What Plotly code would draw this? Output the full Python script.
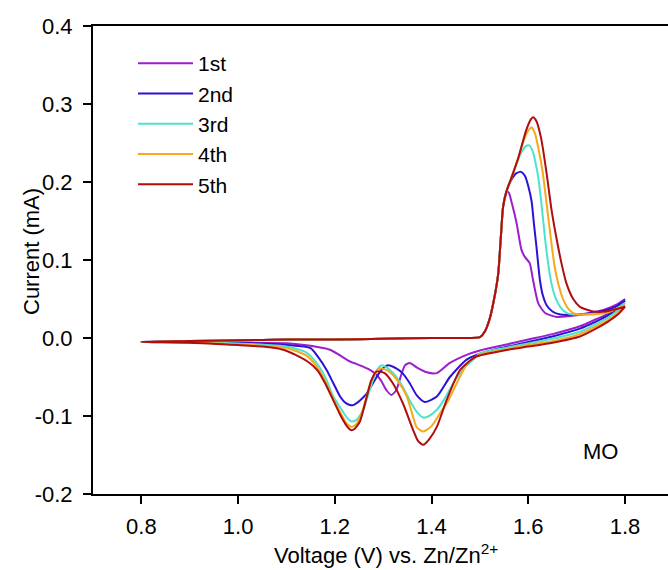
import plotly.graph_objects as go

# ---------------- data ----------------
labels = ["1st", "2nd", "3rd", "4th", "5th"]
colors = ["#9B1FCB", "#2A12D6", "#4CE3CE", "#F7A81B", "#B00E0E"]

# common forward (anodic) baseline 0.8 -> ~1.555 V
fwd_base_v = [0.80, 0.90, 1.00, 1.10, 1.20, 1.30, 1.40, 1.45, 1.48, 1.50, 1.51, 1.52, 1.53, 1.538, 1.543, 1.548, 1.555]
fwd_base_i = [-0.005, -0.004, -0.003, -0.002, -0.002, -0.001, 0.000, 0.000, 0.000, 0.001, 0.008, 0.024, 0.052, 0.083, 0.126, 0.168, 0.188]

# forward branch after the shoulder, per cycle
fwd1_v = [1.56, 1.566, 1.576, 1.586, 1.593, 1.603, 1.610, 1.621, 1.635, 1.659, 1.70, 1.728, 1.76, 1.78, 1.80]
fwd1_i = [0.186, 0.173, 0.147, 0.113, 0.104, 0.096, 0.074, 0.044, 0.032, 0.027, 0.029, 0.032, 0.037, 0.042, 0.050]
fwd2_v = [1.565, 1.575, 1.585, 1.593, 1.600, 1.607, 1.612, 1.617, 1.624, 1.630, 1.638, 1.650, 1.666, 1.70, 1.75, 1.78, 1.80]
fwd2_i = [0.203, 0.211, 0.213, 0.208, 0.195, 0.175, 0.145, 0.117, 0.075, 0.055, 0.042, 0.034, 0.030, 0.030, 0.034, 0.040, 0.048]
fwd3_v = [1.565, 1.575, 1.585, 1.595, 1.602, 1.610, 1.616, 1.621, 1.628, 1.635, 1.642, 1.648, 1.656, 1.666, 1.68, 1.70, 1.75, 1.78, 1.80]
fwd3_i = [0.205, 0.222, 0.237, 0.246, 0.247, 0.238, 0.222, 0.205, 0.168, 0.126, 0.092, 0.070, 0.052, 0.040, 0.032, 0.030, 0.032, 0.037, 0.045]
fwd4_v = [1.565, 1.578, 1.590, 1.600, 1.607, 1.614, 1.622, 1.630, 1.638, 1.647, 1.655, 1.662, 1.672, 1.680, 1.693, 1.72, 1.76, 1.80]
fwd4_i = [0.205, 0.228, 0.252, 0.266, 0.270, 0.262, 0.240, 0.212, 0.172, 0.126, 0.090, 0.070, 0.050, 0.040, 0.032, 0.030, 0.032, 0.042]
fwd5_v = [1.565, 1.580, 1.595, 1.605, 1.610, 1.617, 1.627, 1.638, 1.648, 1.659, 1.669, 1.679, 1.693, 1.707, 1.734, 1.76, 1.80]
fwd5_i = [0.205, 0.232, 0.265, 0.280, 0.283, 0.278, 0.255, 0.211, 0.165, 0.126, 0.095, 0.070, 0.050, 0.040, 0.034, 0.034, 0.040]

# reverse (cathodic) branch 1.8 -> 0.8 V, per cycle
rev1_v = [1.80, 1.785, 1.765, 1.74, 1.707, 1.65, 1.60, 1.55, 1.50, 1.479, 1.438, 1.411, 1.390, 1.370, 1.355, 1.345, 1.335, 1.327, 1.317, 1.307, 1.296, 1.286, 1.270, 1.252, 1.231, 1.210, 1.190, 1.150, 1.108, 1.00, 0.90, 0.80]
rev1_i = [0.050, 0.040, 0.031, 0.024, 0.015, 0.005, -0.002, -0.009, -0.016, -0.020, -0.032, -0.045, -0.044, -0.038, -0.032, -0.035, -0.052, -0.067, -0.073, -0.067, -0.055, -0.047, -0.040, -0.035, -0.030, -0.022, -0.015, -0.010, -0.007, -0.006, -0.005, -0.005]
rev2_v = [1.80, 1.785, 1.765, 1.74, 1.707, 1.65, 1.60, 1.55, 1.50, 1.472, 1.438, 1.411, 1.386, 1.370, 1.355, 1.340, 1.327, 1.310, 1.295, 1.279, 1.265, 1.252, 1.238, 1.231, 1.220, 1.211, 1.197, 1.183, 1.165, 1.150, 1.100, 1.00, 0.90, 0.80]
rev2_i = [0.048, 0.038, 0.029, 0.021, 0.012, 0.002, -0.005, -0.012, -0.020, -0.028, -0.050, -0.075, -0.082, -0.074, -0.058, -0.045, -0.039, -0.035, -0.042, -0.058, -0.072, -0.080, -0.086, -0.086, -0.082, -0.075, -0.058, -0.041, -0.024, -0.013, -0.009, -0.006, -0.005, -0.005]
rev3_v = [1.80, 1.785, 1.765, 1.74, 1.707, 1.65, 1.60, 1.55, 1.50, 1.486, 1.465, 1.445, 1.425, 1.411, 1.395, 1.383, 1.370, 1.355, 1.338, 1.321, 1.305, 1.297, 1.288, 1.279, 1.268, 1.259, 1.245, 1.235, 1.225, 1.210, 1.197, 1.180, 1.160, 1.140, 1.100, 1.00, 0.90, 0.80]
rev3_i = [0.045, 0.035, 0.026, 0.018, 0.008, -0.001, -0.007, -0.013, -0.020, -0.028, -0.040, -0.058, -0.080, -0.092, -0.100, -0.102, -0.095, -0.080, -0.060, -0.045, -0.037, -0.035, -0.040, -0.054, -0.075, -0.092, -0.105, -0.107, -0.102, -0.088, -0.075, -0.050, -0.030, -0.018, -0.011, -0.007, -0.005, -0.005]
rev4_v = [1.80, 1.785, 1.765, 1.74, 1.707, 1.65, 1.60, 1.55, 1.50, 1.475, 1.452, 1.435, 1.417, 1.400, 1.383, 1.370, 1.349, 1.330, 1.310, 1.293, 1.282, 1.270, 1.258, 1.245, 1.235, 1.225, 1.210, 1.197, 1.180, 1.162, 1.140, 1.100, 1.00, 0.90, 0.80]
rev4_i = [0.042, 0.032, 0.023, 0.015, 0.005, -0.004, -0.009, -0.015, -0.021, -0.032, -0.058, -0.080, -0.097, -0.113, -0.120, -0.115, -0.075, -0.055, -0.042, -0.039, -0.046, -0.065, -0.092, -0.110, -0.114, -0.110, -0.094, -0.078, -0.055, -0.036, -0.022, -0.013, -0.008, -0.006, -0.005]
rev5_v = [1.80, 1.785, 1.765, 1.74, 1.707, 1.65, 1.60, 1.55, 1.492, 1.459, 1.431, 1.411, 1.395, 1.383, 1.372, 1.362, 1.341, 1.320, 1.303, 1.286, 1.275, 1.265, 1.252, 1.240, 1.233, 1.225, 1.210, 1.197, 1.180, 1.165, 1.148, 1.120, 1.093, 1.050, 1.00, 0.90, 0.80]
rev5_i = [0.040, 0.030, 0.021, 0.012, 0.002, -0.006, -0.011, -0.016, -0.024, -0.041, -0.080, -0.114, -0.130, -0.137, -0.132, -0.118, -0.084, -0.058, -0.045, -0.043, -0.055, -0.078, -0.107, -0.117, -0.118, -0.113, -0.097, -0.080, -0.058, -0.042, -0.032, -0.022, -0.015, -0.011, -0.009, -0.006, -0.005]

fwd_v = [fwd1_v, fwd2_v, fwd3_v, fwd4_v, fwd5_v]
fwd_i = [fwd1_i, fwd2_i, fwd3_i, fwd4_i, fwd5_i]
rev_v = [rev1_v, rev2_v, rev3_v, rev4_v, rev5_v]
rev_i = [rev1_i, rev2_i, rev3_i, rev4_i, rev5_i]

x_ticks = [0.8, 1.0, 1.2, 1.4, 1.6, 1.8]
x_ticktext = ["0.8", "1.0", "1.2", "1.4", "1.6", "1.8"]
y_ticks = [-0.2, -0.1, 0.0, 0.1, 0.2, 0.3, 0.4]
y_ticktext = ["-0.2", "-0.1", "0.0", "0.1", "0.2", "0.3", "0.4"]

FONT = "Liberation Sans, Arial, sans-serif"
FS = 22

fig = go.Figure()
for k in range(5):
    v = fwd_base_v + fwd_v[k] + rev_v[k]
    i = fwd_base_i + fwd_i[k] + rev_i[k]
    fig.add_trace(go.Scatter(
        x=v, y=i, mode="lines", name=labels[k],
        line=dict(color=colors[k], width=2, shape="spline", smoothing=0.6),
    ))

W, H = 668, 570
L, R, T, B = 93, 0, 26, 76

fig.update_layout(
    width=W, height=H,
    margin=dict(l=L, r=R, t=T, b=B),
    paper_bgcolor="white", plot_bgcolor="white",
    font=dict(family=FONT, size=FS, color="black"),
    showlegend=True,
    legend=dict(
        x=(133 - L) / (W - L - R), y=(H - B - 43) / (H - T - B),
        xanchor="left", yanchor="top",
        bgcolor="rgba(0,0,0,0)", borderwidth=0,
        font=dict(family=FONT, size=21, color="black"),
        tracegroupgap=0, itemwidth=55,
    ),
    xaxis=dict(
        range=[0.7, 1.889], tickvals=x_ticks, ticktext=x_ticktext,
        ticks="outside", ticklen=8, tickwidth=2, tickcolor="black",
        showline=True, linecolor="black", linewidth=2, mirror=True,
        showgrid=False, zeroline=False,
        tickfont=dict(family=FONT, size=FS, color="black"),
        ticklabelstandoff=4,
    ),
    yaxis=dict(
        range=[-0.2, 0.4], tickvals=y_ticks, ticktext=y_ticktext,
        ticks="outside", ticklen=8, tickwidth=2, tickcolor="black",
        showline=True, linecolor="black", linewidth=2, mirror=False,
        showgrid=False, zeroline=False,
        tickfont=dict(family=FONT, size=FS, color="black"),
        ticklabelstandoff=6,
    ),
    annotations=[
        dict(text="Current (mA)", textangle=-90, xref="paper", yref="paper",
             x=(32 - L) / (W - L - R), y=(H - B - 252) / (H - T - B),
             xanchor="center", yanchor="middle", showarrow=False,
             font=dict(family=FONT, size=FS, color="black")),
        dict(text="Voltage (V) vs. Zn/Zn<sup>2+</sup>", xref="paper", yref="paper",
             x=(386 - L) / (W - L - R), y=(H - B - 554) / (H - T - B),
             xanchor="center", yanchor="middle", showarrow=False,
             font=dict(family=FONT, size=FS, color="black")),
        dict(text="MO", xref="paper", yref="paper",
             x=(600 - L) / (W - L - R), y=(H - B - 451) / (H - T - B),
             xanchor="center", yanchor="middle", showarrow=False,
             font=dict(family=FONT, size=FS, color="black")),
    ],
)

fig.write_html("out.html")
